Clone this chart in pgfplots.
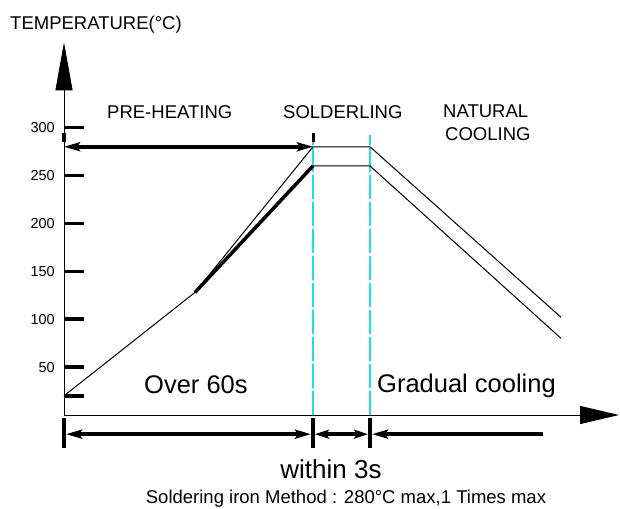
\documentclass[border=0pt]{standalone}
\usepackage{pgfplots}
\pgfplotsset{compat=1.18}
\usepackage{fontspec}
\setmainfont{Liberation Sans}
\usetikzlibrary{arrows.meta}
\definecolor{cy}{RGB}{30,220,235}
\newcommand\fs[1]{\fontsize{#1bp}{#1bp}\selectfont}
\begin{document}
\begin{tikzpicture}
\useasboundingbox (0,0) rectangle (620bp,509bp);
\begin{axis}[
  at={(64bp,94bp)}, anchor=south west,
  x=1bp, y=0.958bp,
  xmin=0, xmax=555, ymin=0, ymax=389,
  axis x line=bottom, axis y line=left,
  clip=false,
  xtick=\empty,
  ytick={20,50,100,150,200,250,300},
  yticklabels={,50,100,150,200,250,300},
  tick align=inside,
  major tick length=20bp,
  y tick style={line width=3.5bp, black},
  yticklabel style={font=\fs{14.5}, inner sep=0pt, xshift=-9bp},
  /pgf/number format/assume math mode=true,
  axis line style={line width=0.9bp, black},
  x axis line style={-{Triangle[length=39bp,width=18bp]}},
  y axis line style={-{Triangle[length=48bp,width=17bp]}},
]
% cyan dashed
\addplot[cy, line width=1.6bp, dash pattern=on 24bp off 3bp] coordinates {(249.2,0) (249.2,292)};
\addplot[cy, line width=1.3bp, dash pattern=on 24bp off 3bp] coordinates {(306,0) (306,292)};
% profile
\addplot[black, line width=1bp] coordinates {(0,20) (131,128) (249,280) (306,280) (497,102)};
\addplot[black, line width=3.5bp] coordinates {(131,128) (249,260)};
\addplot[black, line width=1bp] coordinates {(249,260) (306,260) (497,80)};
% preheating arrow
\addplot[black, line width=3.5bp, {Stealth[length=16bp,width=9bp,inset=3bp]}-{Stealth[length=16bp,width=9bp,inset=3bp]}] coordinates {(0,280) (249,280)};
\addplot[black, line width=3bp] coordinates {(0,285) (0,294)};
\addplot[black, line width=3bp] coordinates {(249,285) (249,294)};
% bottom dimension
\addplot[black, line width=4bp] coordinates {(0,-3) (0,-34)};
\addplot[black, line width=4bp] coordinates {(249,-3) (249,-34)};
\addplot[black, line width=4bp] coordinates {(306,-3) (306,-34)};
\addplot[black, line width=3.5bp, {Stealth[length=16bp,width=9bp,inset=3bp]}-{Stealth[length=16bp,width=9bp,inset=3bp]}] coordinates {(2,-20) (247,-20)};
\addplot[black, line width=3.5bp, {Stealth[length=14bp,width=9bp,inset=3bp]}-{Stealth[length=14bp,width=9bp,inset=3bp]}] coordinates {(251,-20) (304,-20)};
\addplot[black, line width=3.5bp, {Stealth[length=16bp,width=9bp,inset=3bp]}-] coordinates {(308,-20) (479,-20)};
% texts
\node[anchor=base west, inner sep=0pt, font=\fs{18.5}] at (axis cs:-54,402) {TEMPERATURE(°C)};
\node[anchor=base west, inner sep=0pt, font=\fs{18.5}] at (axis cs:43,309) {PRE-HEATING};
\node[anchor=base west, inner sep=0pt, font=\fs{18.5}] at (axis cs:219,310) {SOLDERLING};
\node[anchor=base west, inner sep=0pt, font=\fs{18.5}] at (axis cs:379,311) {NATURAL};
\node[anchor=base west, inner sep=0pt, font=\fs{18.5}] at (axis cs:381,287) {COOLING};
\node[anchor=base west, inner sep=0pt, font=\fs{25.5}] at (axis cs:80,22) {Over 60s};
\node[anchor=base west, inner sep=0pt, font=\fs{25.5}] at (axis cs:313,23) {Gradual cooling};
\node[anchor=base, inner sep=0pt, font=\fs{26}] at (axis cs:267,-66) {within 3s};
\node[anchor=base, inner sep=0pt, font=\fs{18.5}] at (axis cs:282,-92) {Soldering iron Method : 280°C max,1 Times max};
\end{axis}
\end{tikzpicture}
\end{document}
